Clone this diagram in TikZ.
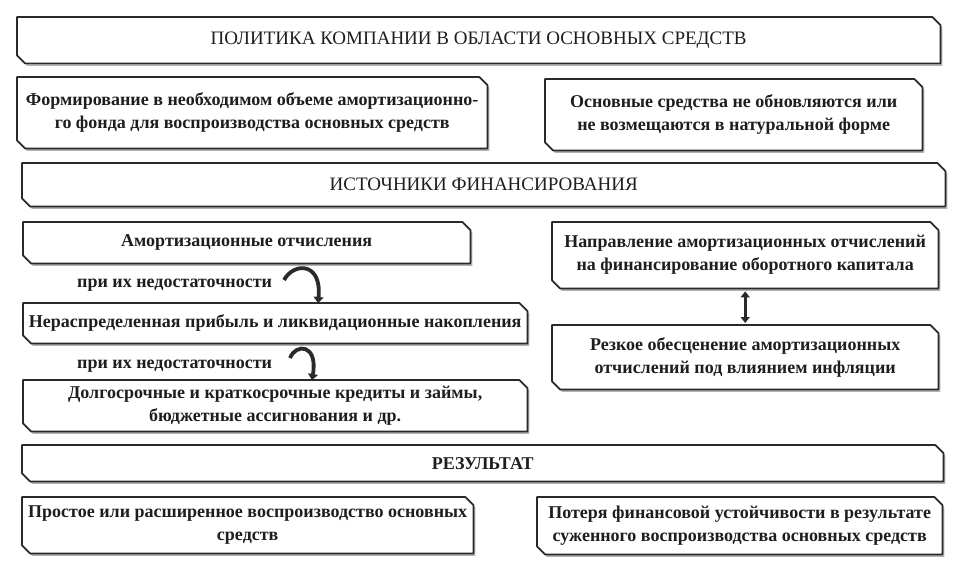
\documentclass[tikz,border=0pt]{standalone}
\usepackage{fontspec}
\setmainfont{Liberation Serif}
\usetikzlibrary{shadows,backgrounds,arrows.meta}
\definecolor{ln}{HTML}{2A2A2A}
\definecolor{txt}{HTML}{1E1E1E}
\newcommand{\bodyf}{\fontsize{18}{23}\selectfont\bfseries}
\newcommand{\headf}{\fontsize{19}{23}\selectfont}
\begin{document}
\begin{tikzpicture}[x=1pt,y=-1pt,
  box/.style={anchor=north west, inner sep=0pt, align=center, text=txt, font=\bodyf},
  head/.style={box, font=\headf},
  outline/.style={draw=ln, line width=1.7pt, fill=white, line join=round,
    drop shadow={shadow xshift=2pt, shadow yshift=-2.5pt, fill=black, opacity=0.3}},
  lbl/.style={anchor=west, inner sep=0pt, text=txt, font=\bodyf},
  curv/.style={draw=ln, line width=3.8pt, -{Triangle[width=10pt,length=6pt]}},
  dbl/.style={draw=ln, line width=3pt, {Triangle[width=9pt,length=6pt]}-{Triangle[width=9pt,length=6pt]}, shorten <=3pt, shorten >=2pt}
]
\path[use as bounding box] (0,0) rectangle (955,567);

\node[head, minimum width=923pt, minimum height=46pt] (t1) at (17,17) {ПОЛИТИКА КОМПАНИИ В ОБЛАСТИ ОСНОВНЫХ СРЕДСТВ};
\node[box, minimum width=470pt, minimum height=71pt] (b2) at (17,77) {Формирование в необходимом объеме амортизационно-\\го фонда для воспроизводства основных средств};
\node[box, minimum width=377pt, minimum height=71pt] (b3) at (545,79) {Основные средства не обновляются или\\не возмещаются в натуральной форме};
\node[head, minimum width=923pt, minimum height=43pt] (b4) at (22,163) {ИСТОЧНИКИ ФИНАНСИРОВАНИЯ};
\node[box, minimum width=447pt, minimum height=41pt] (b5) at (23,222) {Амортизационные отчисления};
\node[box, minimum width=504pt, minimum height=40pt] (b6) at (23,303) {Нераспределенная прибыль и ликвидационные накопления};
\node[box, minimum width=504pt, minimum height=51pt] (b7) at (23,380) {Долгосрочные и краткосрочные кредиты и займы,\\бюджетные ассигнования и др.};
\node[box, minimum width=386pt, minimum height=66pt] (b8) at (552,222) {Направление амортизационных отчислений\\на финансирование оборотного капитала};
\node[box, minimum width=386pt, minimum height=64pt] (b9) at (552,325) {Резкое обесценение амортизационных\\отчислений под влиянием инфляции};
\node[box, minimum width=921pt, minimum height=36pt] (b10) at (22,445) {РЕЗУЛЬТАТ};
\node[box, minimum width=451pt, minimum height=56pt] (b11) at (22,497) {Простое или расширенное воспроизводство основных\\средств};
\node[box, minimum width=405pt, minimum height=57pt] (b12) at (537,497) {Потеря финансовой устойчивости в результате\\суженного воспроизводства основных средств};

\node[lbl] (l1) at (77,285) {при их недостаточности};
\node[lbl] (l2) at (77,366) {при их недостаточности};

\begin{scope}[on background layer]
\fill[white] (0,0) rectangle (955,567);
\foreach \n in {t1,b2,b3,b4,b5,b6,b7,b8,b9,b10,b11,b12}{
  \path[outline] ([xshift=-8pt]\n.north east) -- ([yshift=-8pt]\n.north east) -- (\n.south east)
    -- ([xshift=8pt]\n.south west) -- ([yshift=8pt]\n.south west) -- (\n.north west) -- cycle;
}
\end{scope}

\coordinate (c1) at (284,280);
\coordinate (c2) at (290,358);
\draw[curv] (c1) .. controls (294,262) and (322,262) .. ([xshift=295pt]b6.north west);
\draw[curv] (c2) .. controls (296,343) and (318,344) .. ([xshift=289pt]b7.north west);
\draw[dbl] (b8.south) -- (b9.north);
\end{tikzpicture}
\end{document}
